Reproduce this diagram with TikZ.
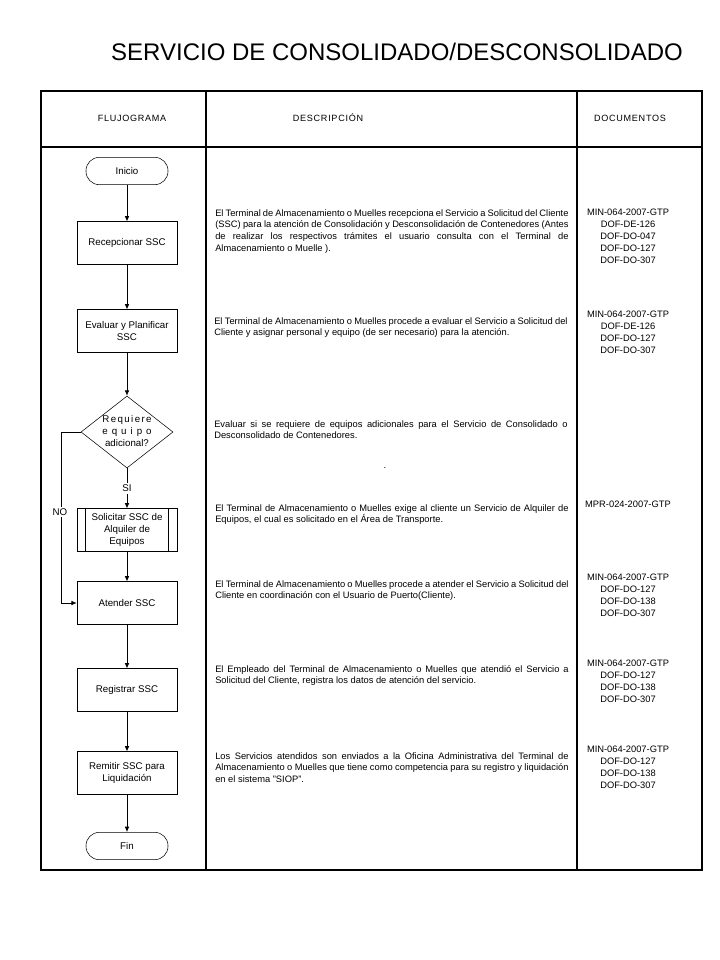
\documentclass[tikz,border=0pt]{standalone}
\usepackage{fontspec}
\setmainfont{Liberation Sans}
\newfontfamily\hdrfont[LetterSpace=8]{Liberation Sans}
\usetikzlibrary{arrows.meta,positioning,shapes.geometric}

% one justified line of the description column
\newcommand\jl[1]{\makebox[265pt][s]{#1}}

\begin{document}
\begin{tikzpicture}[
  x=0.75pt,y=-0.75pt,
  box/.style={draw,rectangle,minimum width=75pt,minimum height=32pt,inner sep=1pt,align=center,font=\fontsize{7.3}{9}\selectfont},
  term/.style={draw,rectangle,rounded corners=10pt,minimum width=61.5pt,minimum height=20.5pt,font=\fontsize{7.3}{9}\selectfont},
  decision/.style={draw,diamond,minimum width=69pt,minimum height=54pt,inner sep=0pt},
  desc/.style={anchor=north west,inner sep=0pt,align=left,font=\fontsize{7}{8.8}\selectfont},
  docs/.style={anchor=north,inner sep=0pt,align=center,font=\fontsize{7}{9}\selectfont},
  hdr/.style={anchor=base,font=\hdrfont\fontsize{6.8}{8}\selectfont},
  flow/.style={-{Latex[length=4pt,width=3.5pt]},line width=0.6pt}]
  \useasboundingbox (0,0) rectangle (720,960);

  \node(titulo) at(397,52){\fontsize{18}{20}\selectfont SERVICIO DE CONSOLIDADO/DESCONSOLIDADO};

  % table
  \draw[line width=0.8pt] (41,91) rectangle (702,870);
  \draw[line width=0.8pt] (41,147)--(702,147);
  \draw[line width=0.8pt] (206,91)--(206,870);
  \draw[line width=0.8pt] (577,91)--(577,870);
  \node[hdr](hflujo) at(132,121){FLUJOGRAMA};
  \node[hdr](hdesc) at(328,121){DESCRIPCIÓN};
  \node[hdr](hdocs) at(630,121){DOCUMENTOS};

  % flowchart
  \node[term](inicio) at(127,171){Inicio};
  \node[box](recep) at(127,243){Recepcionar SSC};
  \node[box](evaluar) at(127,331){Evaluar y Planificar\\SSC};
  \node[decision](requiere) at(127,432){};
  \node[align=center,inner sep=0pt,font=\fontsize{7.3}{9}\selectfont](reqtxt) at(127,431)
    {\makebox[37pt][s]{R\hfill e\hfill q\hfill u\hfill i\hfill e\hfill r\hfill e}\\
     \makebox[37pt][s]{e\hfill q\hfill u\hfill i\hfill p\hfill o}\\adicional?};
  \node[box](solicitar) at(127,530){Solicitar SSC de\\Alquiler de\\Equipos};
  \draw([xshift=6.75pt]solicitar.north west)--([xshift=6.75pt]solicitar.south west);
  \draw([xshift=-6.75pt]solicitar.north east)--([xshift=-6.75pt]solicitar.south east);
  \node[box](atender) at(127,603){Atender SSC};
  \node[box](registrar) at(127,690){Registrar SSC};
  \node[box](remitir) at(127,773){Remitir SSC para\\Liquidación};
  \node[term](fin) at(127,846){Fin};

  \draw[flow](inicio)--(recep);
  \draw[flow](recep)--(evaluar);
  \draw[flow](evaluar)--(requiere);
  \draw[flow](requiere)--node[fill=white,inner sep=1.5pt,font=\fontsize{7.3}{8}\selectfont](si){SI}(solicitar);
  \draw[flow](requiere.west)--++(-19,0)|-(atender.west);
  \node[fill=white,inner sep=1pt,font=\fontsize{7.3}{8}\selectfont](no) at(60,512){NO};
  \draw[flow](solicitar)--(atender);
  \draw[flow](atender)--(registrar);
  \draw[flow](registrar)--(remitir);
  \draw[flow](remitir)--(fin);

  % descriptions
  \node[desc](d1) at(215,209){\jl{El Terminal de Almacenamiento o Muelles recepciona el Servicio a Solicitud del Cliente}\\
    \jl{(SSC) para la atención de Consolidación y Desconsolidación de Contenedores (Antes}\\
    \jl{de realizar los respectivos trámites el usuario consulta con el Terminal de}\\
    Almacenamiento o Muelle ).};
  \node[desc](d2) at(214,317){\jl{El Terminal de Almacenamiento o Muelles procede a evaluar el Servicio a Solicitud del}\\
    Cliente y asignar personal y equipo (de ser necesario) para la atención.};
  \node[desc](d3) at(214,420){\jl{Evaluar si se requiere de equipos adicionales para el Servicio de Consolidado o}\\
    Desconsolidado de Contenedores.};
  \node[inner sep=0pt,font=\fontsize{7}{8}\selectfont](punto) at(385,468){.};
  \node[desc](d4) at(215,504){\jl{El Terminal de Almacenamiento o Muelles exige al cliente un Servicio de Alquiler de}\\
    Equipos, el cual es solicitado en el Área de Transporte.};
  \node[desc](d5) at(215,580){\jl{El Terminal de Almacenamiento o Muelles procede a atender el Servicio a Solicitud del}\\
    Cliente en coordinación con el Usuario de Puerto(Cliente).};
  \node[desc](d6) at(215,665){\jl{El Empleado del Terminal de Almacenamiento o Muelles que atendió el Servicio a}\\
    Solicitud del Cliente, registra los datos de atención del servicio.};
  \node[desc](d7) at(215,752){\jl{Los Servicios atendidos son enviados a la Oficina Administrativa del Terminal de}\\
    \jl{Almacenamiento o Muelles que tiene como competencia para su registro y liquidación}\\
    en el sistema "SIOP".};

  % documents
  \node[docs](doc1) at(628,209){MIN-064-2007-GTP\\DOF-DE-126\\DOF-DO-047\\DOF-DO-127\\DOF-DO-307};
  \node[docs](doc2) at(628,311){MIN-064-2007-GTP\\DOF-DE-126\\DOF-DO-127\\DOF-DO-307};
  \node[docs](doc3) at(628,501){MPR-024-2007-GTP};
  \node[docs](doc4) at(628,574){MIN-064-2007-GTP\\DOF-DO-127\\DOF-DO-138\\DOF-DO-307};
  \node[docs](doc5) at(628,660){MIN-064-2007-GTP\\DOF-DO-127\\DOF-DO-138\\DOF-DO-307};
  \node[docs](doc6) at(628,746){MIN-064-2007-GTP\\DOF-DO-127\\DOF-DO-138\\DOF-DO-307};
\end{tikzpicture}
\end{document}
